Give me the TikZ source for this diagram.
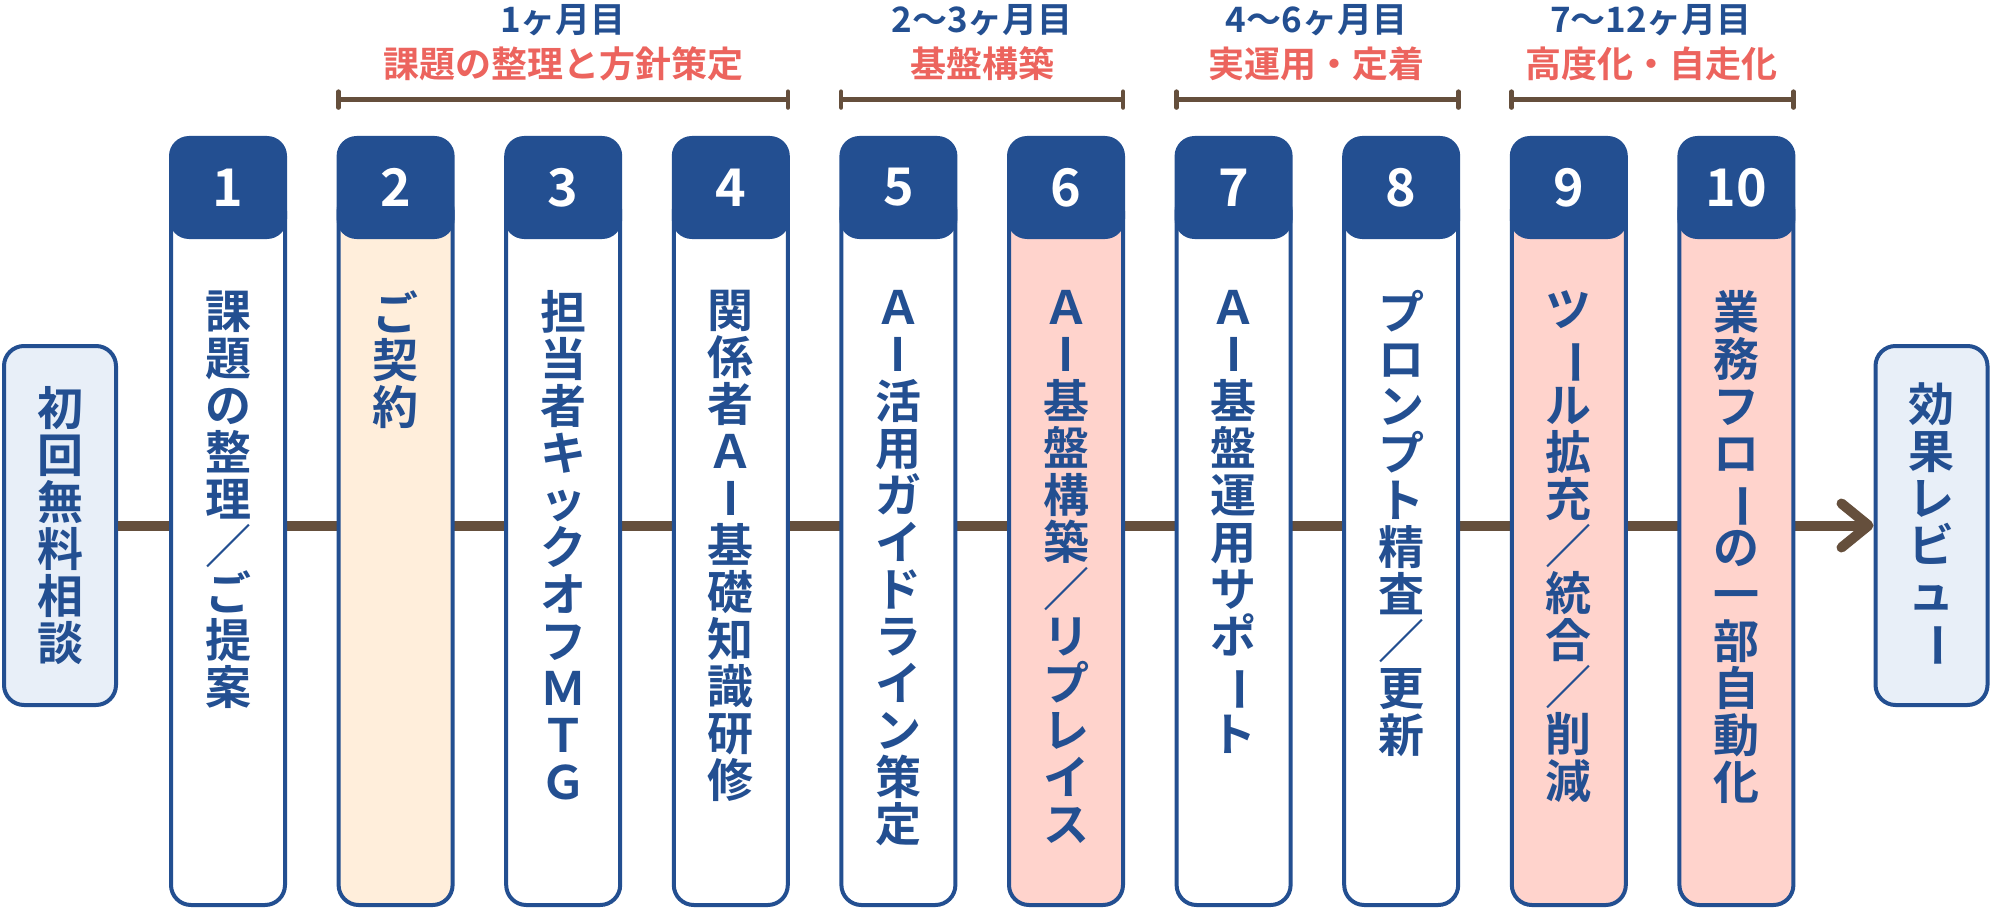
\documentclass[tikz,border=0pt]{standalone}
\usepackage{fontspec}
\setmainfont{Noto Sans CJK JP}[BoldFont={Noto Sans CJK JP Bold}]
\usetikzlibrary{arrows.meta,positioning}
\definecolor{navy}{HTML}{234F91}
\definecolor{paleblue}{HTML}{E8EFF8}
\definecolor{peach}{HTML}{FFEEDB}
\definecolor{blush}{HTML}{FFD3CC}
\definecolor{bark}{HTML}{654F3C}
\definecolor{coral}{HTML}{EC645E}
\newcommand{\chouon}{\rotatebox[origin=c]{-90}{ー}}
\newcommand{\bigI}{\makebox[1em]{I}}

\begin{document}
\begin{tikzpicture}[%
    x=0.5pt,y=-0.5pt,%
    every node/.style={inner sep=0pt},%
    sidebox/.style={draw=navy, line width=2pt, fill=paleblue, rounded corners=10pt,
      minimum width=56pt, minimum height=179.5pt, text=navy, align=center,
      font=\bfseries\fontsize{23}{23.5}\selectfont},%
    cardbody/.style={draw=navy, line width=2pt, rounded corners=10pt,
      minimum width=57pt, minimum height=357pt},%
    cardhead/.style={fill=navy, rounded corners=10pt, minimum width=59pt,
      minimum height=51.5pt, text=white, font=\bfseries\fontsize{26}{26}\selectfont},%
    cardtext/.style={text=navy, align=center, anchor=north,
      font=\bfseries\fontsize{23}{23.5}\selectfont},%
    flow/.style={draw=bark, line width=5pt,
      -{Straight Barb[length=13.5pt,width=22pt,round]}},%
    span/.style={draw=bark, line width=2.2pt,
      {Bar[width=8pt,round]}-{Bar[width=8pt,round]}},%
    month/.style={text=navy, font=\bfseries\fontsize{17.5}{17.5}\selectfont},%
    phase/.style={text=coral, font=\bfseries\fontsize{18}{18}\selectfont}%
  ]
  \useasboundingbox (0,0) rectangle (1992,915);

  % Entrée / sortie
  \node[sidebox] (consult) at (60,525.5) {初\\回\\無\\料\\相\\談};
  \node[sidebox] (review) at (1931.5,525.5) {効\\果\\レ\\ビ\\ュ\\\chouon};

  % Flux principal (sous les cartes)
  \draw[flow] (consult) -- (review);

  % Étapes
  \foreach \i/\bg/\txt in {%
      1/white/{課\\題\\の\\整\\理\\／\\ご\\提\\案},
      2/peach/{ご\\契\\約},
      3/white/{担\\当\\者\\キ\\ッ\\ク\\オ\\フ\\Ｍ\\Ｔ\\Ｇ},
      4/white/{関\\係\\者\\Ａ\\\bigI\\基\\礎\\知\\識\\研\\修},
      5/white/{Ａ\\\bigI\\活\\用\\ガ\\イ\\ド\\ラ\\イ\\ン\\策\\定},
      6/blush/{Ａ\\\bigI\\基\\盤\\構\\築\\／\\リ\\プ\\レ\\イ\\ス},
      7/white/{Ａ\\\bigI\\基\\盤\\運\\用\\サ\\ポ\\\chouon\\ト},
      8/white/{プ\\ロ\\ン\\プ\\ト\\精\\査\\／\\更\\新},
      9/blush/{ツ\\\chouon\\ル\\拡\\充\\／\\統\\合\\／\\削\\減},
      10/blush/{業\\務\\フ\\ロ\\\chouon\\の\\一\\部\\自\\動\\化}} {
    \pgfmathsetmacro{\cx}{228+167.6*(\i-1)}
    \node[cardbody, fill=\bg] (body\i) at (\cx,548) {};
    \node[cardhead] (head\i) at (\cx,187.5) {\i};
    \node[cardtext] (text\i) at (\cx,290) {\txt};
  }

  % Phases
  \draw[span] ([yshift=18pt]head2.north west) -- ([yshift=18pt]head4.north east);
  \draw[span] ([yshift=18pt]head5.north west) -- ([yshift=18pt]head6.north east);
  \draw[span] ([yshift=18pt]head7.north west) -- ([yshift=18pt]head8.north east);
  \draw[span] ([yshift=18pt]head9.north west) -- ([yshift=18pt]head10.north east);

  \node[month] (m1) at (563,20) {1ヶ月目};
  \node[phase] (p1) at (563,64) {課題の整理と方針策定};
  \node[month] (m2) at (982,20) {2〜3ヶ月目};
  \node[phase] (p2) at (982,64) {基盤構築};
  \node[month] (m3) at (1316.5,20) {4〜6ヶ月目};
  \node[phase] (p3) at (1316.5,64) {実運用・定着};
  \node[month] (m4) at (1651,20) {7〜12ヶ月目};
  \node[phase] (p4) at (1651,64) {高度化・自走化};

\end{tikzpicture}
\end{document}
